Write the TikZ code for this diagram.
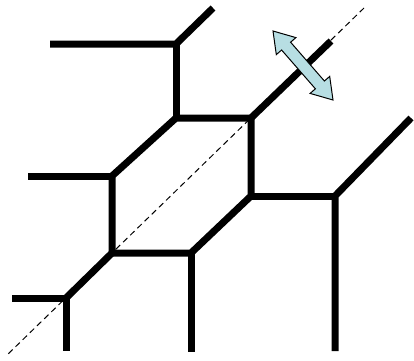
\documentclass[tikz,border=0pt]{standalone}
\usetikzlibrary{calc}
\definecolor{arrowblue}{RGB}{183,222,227}
\begin{document}
\begin{tikzpicture}[x=1pt,y=-1pt,
  bond/.style={line width=7pt,line join=miter,line cap=butt},
  axisline/.style={line width=1pt,dash pattern=on 6pt off 4pt}]
\useasboundingbox (0,0) rectangle (414,360);
% hexagon vertices
\coordinate (A) at (176,118);
\coordinate (B) at (251,118);
\coordinate (C) at (251,196);
\coordinate (D) at (191,253);
\coordinate (E) at (112,253);
\coordinate (F) at (112,176);
% outer points
\coordinate (Tj) at (176,44);
\coordinate (Tl) at (50,44);
\coordinate (Tr) at (213,8);
\coordinate (Bu) at (331,41);
\coordinate (Rj) at (335,196);
\coordinate (Ru) at (411,118);
\coordinate (Rd) at (335,351);
\coordinate (Dd) at (191,352);
\coordinate (Fl) at (28,176);
\coordinate (Lj) at (66,298);
\coordinate (Ll) at (12,298);
\coordinate (Ld) at (66,351);
\coordinate (Da) at (364,8);
\coordinate (Db) at (7,355);
% dashed axis
\draw[axisline] (Da) -- (Db);
% bonds
\draw[bond] (A) -- (B) -- (C) -- (D) -- (E) -- (F) -- cycle;
\draw[bond] (A) -- (Tj);
\draw[bond] (Tl) -- (Tj) -- (Tr);
\draw[bond] (B) -- (Bu);
\draw[bond] (C) -- (Rj);
\draw[bond] (Ru) -- (Rj) -- (Rd);
\draw[bond] (D) -- (Dd);
\draw[bond] (F) -- (Fl);
\draw[bond] (E) -- (Lj);
\draw[bond] (Ll) -- (Lj) -- (Ld);
% double arrow
\draw[fill=arrowblue,line width=1pt,line join=miter]
  (273,31) -- (295.9,37.6) -- (290.6,42.2) -- (324.4,81.0) -- (329.7,76.4)
  -- (333,100) -- (310.1,93.4) -- (315.4,88.8) -- (281.6,50.0) -- (276.3,54.6) -- cycle;
\end{tikzpicture}
\end{document}
